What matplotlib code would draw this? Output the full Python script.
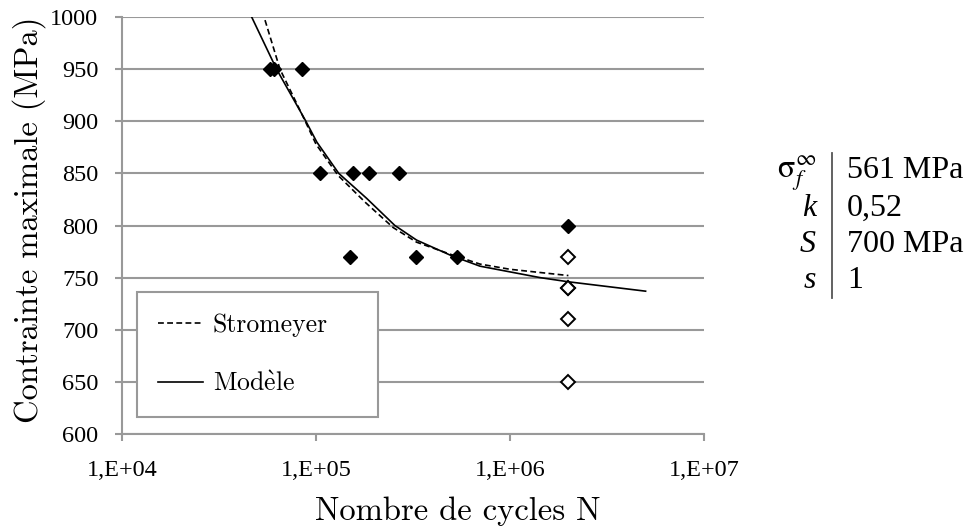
import numpy as np
import matplotlib
matplotlib.use('Agg')
import matplotlib.pyplot as plt

# essais rompus (losanges pleins)
n_rompu = [58000, 61000, 85000, 105000, 156000, 187000, 268000, 150000, 326000, 531000, 2000000]
s_rompu = [950, 950, 950, 850, 850, 850, 850, 770, 770, 770, 800]

# essais non rompus a 2e6 cycles (losanges vides)
n_nonrompu = [2000000, 2000000, 2000000, 2000000, 2000000]
s_nonrompu = [770, 740, 740, 710, 650]

# courbe de Stromeyer (pointilles)
n_strom = [54600, 65200, 81000, 88000, 100000, 130000, 180000, 250000, 330000, 500000, 700000, 1000000, 2000000]
s_strom = [997, 950, 914, 900, 878, 848, 822, 798, 784, 772, 763, 758, 752]

# courbe du modele (trait plein)
n_modele = [46600, 62600, 88700, 101000, 131000, 182500, 255000, 330000, 500000, 700000, 1430000, 2000000, 5000000]
s_modele = [1000, 950, 900, 880, 850, 826, 800, 786, 771, 761, 750, 746, 737]

xticks = [1e4, 1e5, 1e6, 1e7]
xticklabels = ['1,E+04', '1,E+05', '1,E+06', '1,E+07']
yticks = [600, 650, 700, 750, 800, 850, 900, 950, 1000]

# parametres du modele (tableau a droite)
param_names = [r'$\mathrm{\sigma}_f^{\infty}$', 'k', 'S', 's']
param_values = ['561 MPa', '0,52', '700 MPa', '1']

W, H = 968, 527
grey = '#999999'
label_font = 'cmr10'
tick_font = 'Liberation Serif'

fig = plt.figure(figsize=(W / 100, H / 100), dpi=100)
ax = fig.add_axes([122 / W, 1 - 434 / H, 582 / W, 417 / H])

ax.plot(n_strom, s_strom, color='black', lw=1.2, ls=(0, (3.5, 2)), label='Stromeyer', zorder=3)
ax.plot(n_modele, s_modele, color='black', lw=1.2, label=r'Mod$\mathrm{\grave{e}}$le', zorder=3)
ax.plot(n_rompu, s_rompu, ls='none', marker='D', ms=7, color='black', zorder=4)
ax.plot(n_nonrompu, s_nonrompu, ls='none', marker='D', ms=7, mfc='white', mec='black', mew=1.4, zorder=4)

ax.set_xscale('log')
ax.set_xlim(1e4, 1e7)
ax.set_ylim(600, 1000)
ax.set_xticks(xticks)
ax.set_xticklabels(xticklabels)
ax.xaxis.set_minor_locator(matplotlib.ticker.NullLocator())
ax.set_yticks(yticks)

for lab in ax.get_xticklabels() + ax.get_yticklabels():
    lab.set_fontfamily(tick_font)
    lab.set_fontsize(17.5)

ax.grid(axis='y', color=grey, lw=1.5)
ax.set_axisbelow(True)
for sp in ['top', 'right']:
    ax.spines[sp].set_visible(False)
for sp in ['left', 'bottom']:
    ax.spines[sp].set_color(grey)
    ax.spines[sp].set_linewidth(1.5)
ax.tick_params(axis='both', direction='out', length=5, width=1.5, color=grey)
ax.tick_params(axis='x', pad=14)
ax.tick_params(axis='y', pad=12)

ax.set_xlabel('Nombre de cycles N', fontfamily=label_font, fontsize=23.5)
ax.xaxis.set_label_coords(0.577, -0.149)
ax.set_ylabel('Contrainte maximale (MPa)', fontfamily=label_font, fontsize=23.5)
ax.yaxis.set_label_coords(-0.131, 0.513)

leg = ax.legend(loc='lower left', bbox_to_anchor=(0.026, 0.041, 0.414, 0.297), mode='expand',
                prop={'family': label_font, 'size': 18.5}, handlelength=1.75, handletextpad=0.4,
                labelspacing=1.38, borderpad=0.8, borderaxespad=0, fancybox=False, framealpha=1)
leg.get_frame().set_edgecolor(grey)
leg.get_frame().set_linewidth(1.5)
for t in leg.get_texts():
    t.set_math_fontfamily('cm')

# tableau des parametres
row_base = [178, 216, 252, 288]
for name, val, y in zip(param_names, param_values, row_base):
    fig.text(816 / W, 1 - y / H, name, ha='right', va='baseline', fontsize=23,
             fontfamily=tick_font, fontstyle='italic', math_fontfamily='stix')
    fig.text(847 / W, 1 - y / H, val, ha='left', va='baseline', fontsize=23, fontfamily=tick_font)
fig.add_artist(plt.Line2D([832 / W, 832 / W], [1 - 153 / H, 1 - 298 / H], color='#555555', lw=1.3))

fig.savefig('out.png', dpi=100)
